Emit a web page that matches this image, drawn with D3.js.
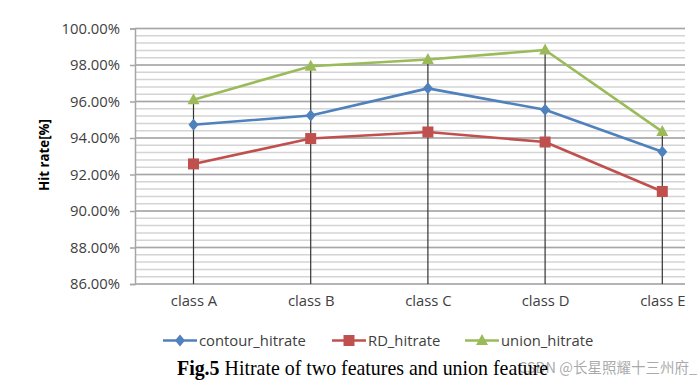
<!DOCTYPE html>
<html><head><meta charset="utf-8">
<script src="https://cdn.jsdelivr.net/npm/d3@7"></script>
<style>html,body{margin:0;padding:0;background:#fff;}</style>
</head><body>
<script>
const categories = ["class A","class B","class C","class D","class E"];
const contourHitrate = [94.73, 95.23, 96.72, 95.55, 93.25];
const rdHitrate = [92.58, 93.97, 94.33, 93.78, 91.07];
const unionHitrate = [96.1, 97.93, 98.3, 98.82, 94.35];
const seriesNames = ["contour_hitrate","RD_hitrate","union_hitrate"];
const yTicks = [86,88,90,92,94,96,98,100];
const yMinorTicks = d3.range(86, 100.01, 0.4);
const caption = ["Fig.5", " Hitrate of two features and union feature"];
const watermark = "CSDN @长星照耀十三州府_";

const W = 699, H = 386;
const svg = d3.select("body").append("svg").attr("width", W).attr("height", H);

const plot = {left:135, right:685, top:28.5, bottom:284};
const y = d3.scaleLinear().domain([86,100]).range([plot.bottom, plot.top]);
const bandW = 117.2;
const x = d3.scalePoint().domain(categories).range([193.5, 193.5 + bandW*4]);

const font = "'Open Sans', sans-serif";
const fs = 14.8;

// minor gridlines
svg.append("g").selectAll("line").data(yMinorTicks).join("line")
  .attr("x1", plot.left).attr("x2", plot.right)
  .attr("y1", d => y(d)).attr("y2", d => y(d))
  .attr("stroke", "#d4d4d4").attr("stroke-width", 1.5);
// major gridlines
svg.append("g").selectAll("line").data(yTicks).join("line")
  .attr("x1", plot.left).attr("x2", plot.right)
  .attr("y1", d => y(d)).attr("y2", d => y(d))
  .attr("stroke", "#a6a6a6").attr("stroke-width", 1.5);

// y axis
const yAxis = d3.axisLeft(y).tickValues(yTicks).tickSize(5).tickPadding(10)
  .tickFormat(d => d.toFixed(2) + "%");
const gy = svg.append("g").attr("transform", `translate(${plot.left},0)`).call(yAxis);
gy.select(".domain").attr("stroke", "#a6a6a6").attr("stroke-width", 1.5);
gy.selectAll(".tick line").attr("stroke", "#a6a6a6").attr("stroke-width", 1.5);
gy.selectAll(".tick text").attr("font-family", font).attr("font-size", fs).attr("fill", "#404040");

// x axis labels
const xAxis = d3.axisBottom(x).tickSize(0).tickPadding(11);
const gx = svg.append("g").attr("transform", `translate(0,${plot.bottom})`).call(xAxis);
gx.select(".domain").remove();
gx.selectAll(".tick text").attr("font-family", font).attr("font-size", fs).attr("fill", "#404040");

// drop lines
const maxVals = categories.map((c,i) => Math.max(contourHitrate[i], rdHitrate[i], unionHitrate[i]));
svg.append("g").selectAll("line").data(categories).join("line")
  .attr("x1", d => x(d)).attr("x2", d => x(d))
  .attr("y1", (d,i) => y(maxVals[i])).attr("y2", plot.bottom)
  .attr("stroke", "#333").attr("stroke-width", 1.2);

// y label
svg.append("text").attr("transform", `translate(49,155) rotate(-90)`)
  .attr("text-anchor","middle").attr("font-family", font).attr("font-weight","bold")
  .attr("font-size", 13.3).attr("fill","#000").text("Hit rate[%]");

const colors = ["#4F81BD","#C0504D","#9BBB59"];
const allSeries = [contourHitrate, rdHitrate, unionHitrate];

function marker(g, i) {
  if (i === 0) {
    g.append("path").attr("d", "M0,-6L5,0L0,6L-5,0Z").attr("fill", colors[i]);
  } else if (i === 1) {
    g.append("rect").attr("x",-5.5).attr("y",-5.5).attr("width",11).attr("height",11).attr("fill", colors[i]);
  } else {
    g.append("path").attr("d", "M0,-6.5L6,4.5L-6,4.5Z").attr("fill", colors[i]);
  }
}

const line = d3.line().x((d,i) => x(categories[i])).y(d => y(d));
allSeries.forEach((s, si) => {
  svg.append("path").datum(s).attr("d", line).attr("fill","none")
    .attr("stroke", colors[si]).attr("stroke-width", 2.6).attr("stroke-linejoin","round");
});
allSeries.forEach((s, si) => {
  s.forEach((v, i) => {
    const g = svg.append("g").attr("transform", `translate(${x(categories[i])},${y(v)})`);
    marker(g, si);
  });
});

// legend
const legX = [163, 332, 465];
const legY = 340.5;
seriesNames.forEach((n, i) => {
  const g = svg.append("g").attr("transform", `translate(${legX[i]},${legY})`);
  g.append("line").attr("x1",0).attr("x2",34).attr("y1",0).attr("y2",0)
    .attr("stroke", colors[i]).attr("stroke-width", 2.6);
  const mg = g.append("g").attr("transform","translate(17,0)");
  marker(mg, i);
  g.append("text").attr("x", 36).attr("y", 0).attr("dy","0.35em")
    .attr("font-family", font).attr("font-size", fs).attr("fill","#404040").text(n);
});

// watermark
svg.append("text").attr("x", 697).attr("y", 373).attr("text-anchor","end")
  .attr("font-family","'Noto Sans CJK SC', sans-serif").attr("font-size", 14.5)
  .attr("fill","#9a9a9a").attr("fill-opacity",0.85).text(watermark);

// caption
const cap = svg.append("text").attr("x", 177).attr("y", 375)
  .attr("font-family","'Liberation Serif', 'Times New Roman', serif").attr("font-size", 19.9).attr("fill","#000");
cap.append("tspan").attr("font-weight","bold").text(caption[0]);
cap.append("tspan").text(caption[1]);
</script>
</body></html>
